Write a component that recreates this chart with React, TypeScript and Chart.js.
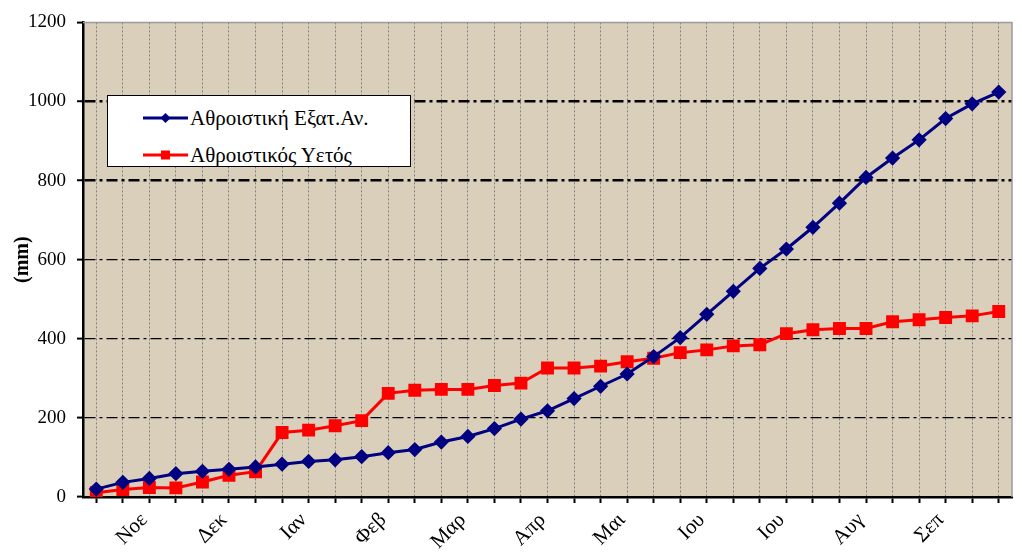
import React, { useEffect, useRef } from "react";
import { Chart, registerables } from "chart.js";

Chart.register(...registerables);

const categories: string[] = [
  "", "", "Νοε", "", "", "Δεκ", "", "", "Ιαν", "", "", "Φεβ", "", "", "Μαρ", "", "", "Απρ",
  "", "", "Μαι", "", "", "Ιου", "", "", "Ιου", "", "", "Αυγ", "", "", "Σεπ", "", "",
];

const evapLabel = "Αθροιστική Εξατ.Αν.";
const rainLabel = "Αθροιστικός Υετός";

const evapValues: number[] = [
  20, 37, 47, 59, 65, 70, 76, 83, 90, 94, 102, 112, 120, 139, 153, 173, 197, 218, 249, 280,
  311, 355, 403, 462, 520, 578, 627, 682, 743, 808, 857, 903, 957, 994, 1024,
];

const rainValues: number[] = [
  11, 19, 24, 23, 38, 55, 64, 163, 169, 180, 193, 262, 270, 272, 272, 282, 288, 326, 326, 331,
  342, 351, 365, 372, 382, 385, 413, 423, 426, 426, 443, 448, 454, 458, 469,
];

const yTicks: number[] = [0, 200, 400, 600, 800, 1000, 1200];
const yTitle = "(mm)";

const FONT = "'Liberation Serif', 'Times New Roman', serif";
const NAVY = "#000080";
const RED = "#ff0000";
const BG = "#d9cfbb";

const plotDecor = {
  id: "plotDecor",
  beforeDraw(chart: any) {
    const { ctx, chartArea } = chart;
    ctx.save();
    ctx.fillStyle = BG;
    ctx.fillRect(chartArea.left, chartArea.top, chartArea.right - chartArea.left, chartArea.bottom - chartArea.top);
    ctx.restore();
  },
  beforeDatasetsDraw(chart: any) {
    const { ctx, chartArea } = chart;
    ctx.save();
    ctx.strokeStyle = "#9a9a9a";
    ctx.lineWidth = 1.5;
    ctx.beginPath();
    ctx.moveTo(chartArea.left, chartArea.top);
    ctx.lineTo(chartArea.right, chartArea.top);
    ctx.lineTo(chartArea.right, chartArea.bottom);
    ctx.stroke();
    ctx.restore();
  },
};

function LegendSample({ color, shape }: { color: string; shape: "diamond" | "square" }) {
  return (
    <svg width={47} height={14} style={{ display: "block" }}>
      <line x1={1} y1={7} x2={46} y2={7} stroke={color} strokeWidth={3} />
      {shape === "diamond" ? (
        <polygon points="23.5,2 28.5,7 23.5,12 18.5,7" fill={color} />
      ) : (
        <rect x={19} y={2.5} width={9} height={9} fill={color} />
      )}
    </svg>
  );
}

export default function App() {
  const canvasRef = useRef<HTMLCanvasElement | null>(null);

  useEffect(() => {
    if (!canvasRef.current) return;
    const chart = new Chart(canvasRef.current, {
      type: "line",
      data: {
        labels: categories,
        datasets: [
          {
            label: evapLabel,
            data: evapValues,
            borderColor: NAVY,
            backgroundColor: NAVY,
            borderWidth: 3,
            pointStyle: "rectRot",
            pointRadius: 5.5,
            pointBorderColor: NAVY,
            pointBackgroundColor: NAVY,
            tension: 0,
          },
          {
            label: rainLabel,
            data: rainValues,
            borderColor: RED,
            backgroundColor: RED,
            borderWidth: 3,
            pointStyle: "rect",
            pointRadius: 7,
            pointBorderColor: RED,
            pointBackgroundColor: RED,
            tension: 0,
          },
        ],
      },
      options: {
        animation: false,
        responsive: true,
        maintainAspectRatio: false,
        layout: { padding: { left: 0, right: 10, top: 17, bottom: 0 } },
        plugins: {
          legend: { display: false },
          tooltip: { enabled: false },
        },
        scales: {
          x: {
            type: "category",
            offset: true,
            afterFit: (scale: any) => {
              scale.height = 56;
            },
            grid: {
              offset: false,
              color: "#808080",
              lineWidth: 1,
              drawTicks: true,
              tickLength: 6,
              tickColor: "#000",
              tickWidth: 2,
            },
            border: { display: true, color: "#000", width: 2.5, dash: [2, 2] },
            ticks: {
              autoSkip: false,
              maxRotation: 45,
              minRotation: 45,
              color: "#000",
              padding: 5,
              labelOffset: -5,
              font: { family: FONT, size: 21 },
            },
          },
          y: {
            min: 0,
            max: 1200,
            afterFit: (scale: any) => {
              scale.width = 83;
            },
            afterBuildTicks: (scale: any) => {
              scale.ticks = yTicks.map((v) => ({ value: v }));
            },
            grid: {
              color: (ctx: any) =>
                ctx.tick && (ctx.tick.value === 1200 || ctx.tick.value === 0) ? "rgba(0,0,0,0)" : "#000",
              lineWidth: (ctx: any) =>
                ctx.tick && (ctx.tick.value === 800 || ctx.tick.value === 1000) ? 2.5 : 1.2,
              drawTicks: true,
              tickLength: 6,
              tickColor: "#000",
              tickWidth: 2,
            },
            border: { display: true, color: "#000", width: 2.5, dash: [11, 4, 3, 4] },
            ticks: {
              color: "#000",
              padding: 11,
              font: { family: FONT, size: 19 },
              callback: (v: any) => String(v),
            },
            title: {
              display: true,
              text: yTitle,
              color: "#000",
              padding: { top: 11, bottom: 0 },
              font: { family: FONT, size: 20, weight: "bold" },
            },
          },
        },
      },
      plugins: [plotDecor],
    });
    return () => chart.destroy();
  }, []);

  return (
    <div
      style={{
        position: "fixed",
        left: 0,
        top: 0,
        width: 1022,
        height: 553,
        background: "#fff",
      }}
    >
      <canvas ref={canvasRef} />
      <div
        style={{
          position: "absolute",
          left: 107,
          top: 95,
          width: 302,
          height: 70,
          background: "#fff",
          border: "1.5px solid #000",
          fontFamily: FONT,
          fontSize: 21,
          color: "#000",
        }}
      >
        <div style={{ position: "absolute", left: 34, top: 12, display: "flex", alignItems: "center" }}>
          <LegendSample color={NAVY} shape="diamond" />
          <span style={{ marginLeft: 1, lineHeight: "20px" }}>{evapLabel}</span>
        </div>
        <div style={{ position: "absolute", left: 34, top: 49, display: "flex", alignItems: "center" }}>
          <LegendSample color={RED} shape="square" />
          <span style={{ marginLeft: 1, lineHeight: "20px" }}>{rainLabel}</span>
        </div>
      </div>
    </div>
  );
}
